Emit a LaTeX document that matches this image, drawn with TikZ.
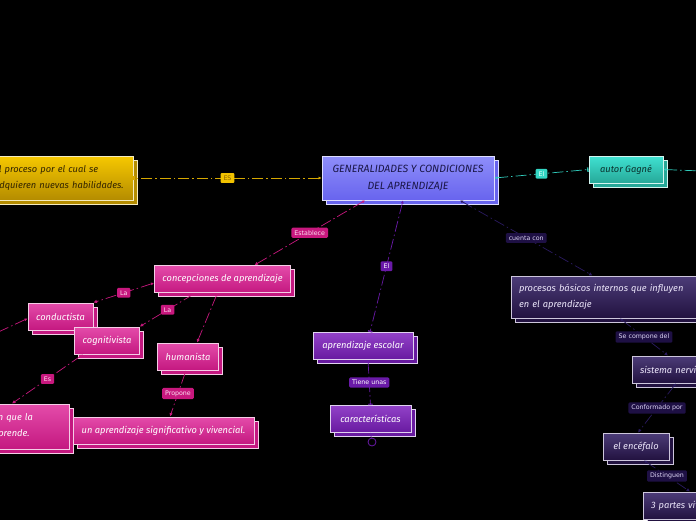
\documentclass[tikz,border=0pt]{standalone}
\usepackage{fontspec}
\setmainfont{Fira Sans}
\newfontfamily\lblfont{DejaVu Sans}
\usetikzlibrary{positioning,arrows.meta}
\definecolor{cMainT} {RGB}{142,142,250}
\definecolor{cMainD} {RGB}{104,100,238}
\definecolor{cMainB} {RGB}{222,222,255}
\definecolor{cMainTx}{RGB}{ 26, 22, 70}
\definecolor{cGoldT} {RGB}{246,200,  0}
\definecolor{cGoldD} {RGB}{180,140,  0}
\definecolor{cGoldB} {RGB}{245,235,190}
\definecolor{cGoldTx}{RGB}{ 50, 36,  0}
\definecolor{cTealT} {RGB}{ 64,226,210}
\definecolor{cTealD} {RGB}{ 38,168,152}
\definecolor{cTealB} {RGB}{210,245,240}
\definecolor{cTealTx}{RGB}{ 10, 50, 46}
\definecolor{cPinkT} {RGB}{228, 76,170}
\definecolor{cPinkD} {RGB}{196, 24,128}
\definecolor{cPinkB} {RGB}{245,205,230}
\definecolor{cPurpT} {RGB}{146, 66,200}
\definecolor{cPurpD} {RGB}{104, 26,160}
\definecolor{cPurpB} {RGB}{225,210,240}
\definecolor{cDarkT} {RGB}{ 76, 60,120}
\definecolor{cDarkD} {RGB}{ 34, 18, 64}
\definecolor{cDarkB} {RGB}{205,198,220}
\definecolor{cDarkTx}{RGB}{236,230,250}
\definecolor{lGold}  {RGB}{214,168,  0}
\definecolor{lTeal}  {RGB}{ 48,204,188}
\definecolor{lPink}  {RGB}{200, 24,126}
\definecolor{lPurp}  {RGB}{106, 26,168}
\definecolor{lDark}  {RGB}{ 42, 26, 96}
\tikzset{
  topic/.style    = {line width=0.9pt, inner xsep=8pt, inner ysep=2pt,
                     minimum height=27pt, align=left,
                     font=\fontsize{9.3}{16}\selectfont\itshape},
  tbox/.style n args = {4}{topic, draw=#1, top color=#2, bottom color=#3,
                     text=#4, preaction={fill=#3, draw=#1,
                     transform canvas={shift={(4pt,-4pt)}}}},
  mainbox/.style  = {tbox={cMainB}{cMainT}{cMainD}{cMainTx}, align=center,
                     font=\fontsize{10.5}{16.5}\selectfont\itshape},
  goldbox/.style  = {tbox={cGoldB}{cGoldT}{cGoldD}{cGoldTx}},
  tealbox/.style  = {tbox={cTealB}{cTealT}{cTealD}{cTealTx}},
  pinkbox/.style  = {tbox={cPinkB}{cPinkT}{cPinkD}{white}},
  purpbox/.style  = {tbox={cPurpB}{cPurpT}{cPurpD}{white}},
  darkbox/.style  = {tbox={cDarkB}{cDarkT}{cDarkD}{cDarkTx}},
  flow/.style     = {line width=0.7pt, dash pattern=on 11pt off 3pt on 1.5pt off 3pt,
                     {Latex[length=3pt,width=3pt]}-{Latex[length=3.5pt,width=3.5pt]}},
  barflow/.style  = {flow, {Latex[length=3pt,width=3pt]}-{Bar[width=4.5pt]Bar[width=4.5pt]}},
  lbl/.style      = {rounded corners=1.2pt, inner xsep=3pt, inner ysep=2.6pt,
                     font=\lblfont\fontsize{6.3}{7}\selectfont},
  lblGold/.style  = {lbl, fill={rgb,255:red,242;green,194;blue,0}, text={rgb,255:red,140;green,100;blue,0}},
  lblTeal/.style  = {lbl, fill={rgb,255:red,52;green,214;blue,196}, text={rgb,255:red,232;green,255;blue,252}},
  lblPink/.style  = {lbl, fill=lPink, text={rgb,255:red,251;green,224;blue,240}},
  lblPurp/.style  = {lbl, fill=lPurp, text=white},
  lblDark/.style  = {lbl, fill={rgb,255:red,30;green,16;blue,68}, text={rgb,255:red,220;green,212;blue,244}},
}
\begin{document}
\begin{tikzpicture}[x=1pt, y=-1pt]
  \useasboundingbox (0,0) rectangle (696,520);
  \clip (0,0) rectangle (696,520);
  \fill[black] (0,0) rectangle (696,520);

  %% ---------------- topics ------------------------------------------
  \node[mainbox, minimum width=172pt, minimum height=44pt] (main) at (408,178)
       {GENERALIDADES Y CONDICIONES\\DEL APRENDIZAJE};
  \node[goldbox, text width=131pt, minimum height=44pt] (proc0) at (59.5,178)
       {El proceso por el cual se\\adquieren nuevas habilidades.};
  \node[tealbox, minimum width=74pt] (gagne) at (626,169.5) {autor Gagné};

  \node[pinkbox, minimum width=135pt] (conc) at (222.5,279) {concepciones de aprendizaje};
  \node[pinkbox, minimum width=65pt]  (cond) at (60.5,316.5) {conductista};
  \node[pinkbox, minimum width=64pt]  (cogn) at (107,340.5) {cognitivista};
  \node[pinkbox, minimum width=60pt]  (hum)  at (188,356.5) {humanista};
  \node[pinkbox, text width=68pt, minimum height=45pt] (cogdef) at (27,426.5)
       {en que la\\aprende.};
  \node[pinkbox, minimum width=181pt] (sig) at (163.5,430.5)
       {un aprendizaje significativo y vivencial.};

  \node[purpbox, minimum width=100pt] (esc) at (363,346) {aprendizaje escolar};
  \node[purpbox, minimum width=81pt]  (car) at (370.5,419) {características};
  \node[circle, draw=lPurp, line width=0.8pt, minimum size=8pt, inner sep=0pt]
       (carMore) at (372,442) {};

  \node[darkbox, text width=179pt, minimum height=42pt] (pbi) at (608.5,297)
       {procesos básicos internos que influyen\\en el aprendizaje};
  \node[darkbox, text width=84pt] (sist) at (682,369.5) {sistema nervioso};
  \node[darkbox, minimum width=66pt] (enc) at (636,446.5) {el encéfalo};
  \node[darkbox, text width=84pt] (part) at (693,505.5) {3 partes vitales};

  \coordinate (gOut) at (702,171);
  \coordinate (cOut) at (-6,334);

  %% ---------------- links -------------------------------------------
  \draw[barflow, lGold] (main.west) -- node[lblGold] (lEs) {ES} (proc0.east);
  \draw[barflow, lTeal] (main.east) -- node[lblTeal] (lElA) {El} (gagne.west);
  \draw[flow, lTeal] (gagne.east) -- (gOut);

  \draw[flow, lPink] ([xshift=-43pt]main.south) -- node[lblPink] (lEst) {Establece}
       ([xshift=32pt]conc.north);
  \draw[flow, lPink] ([yshift=-4pt]conc.west) -- node[lblPink] (lLaA) {La} (cond.north east);
  \draw[flow, lPink] ([xshift=-27pt]conc.south) -- node[lblPink] (lLaB) {La} (cogn.north east);
  \draw[flow, lPink] ([xshift=-5pt]conc.south) -- ([xshift=9pt]hum.north);
  \draw[flow, lPink] ([yshift=-2pt]cond.west) -- (cOut);
  \draw[flow, lPink] ([xshift=-24pt]cogn.south) -- node[lblPink] (lEsB) {Es}
       ([xshift=-15pt]cogdef.north);
  \draw[flow, lPink] ([xshift=-2pt]hum.south) -- node[lblPink] (lProp) {Propone}
       ([xshift=6.5pt]sig.north);

  \draw[barflow, lPurp] ([xshift=-5pt]main.south) -- node[lblPurp] (lElB) {El}
       ([xshift=7pt]esc.north);
  \draw[barflow, lPurp] ([xshift=5pt]esc.south) -- node[lblPurp] (lTiene) {Tiene unas} (car.north);
  \draw[lPurp, line width=0.7pt] (car.south) -- (carMore);

  \draw[flow, lDark] ([xshift=52pt]main.south) -- node[lblDark] (lCuenta) {cuenta con}
       ([xshift=-16pt]pbi.north);
  \draw[flow, lDark] ([xshift=11.5pt]pbi.south) -- node[lblDark] (lComp) {Se compone del}
       ([xshift=-14pt]sist.north);
  \draw[flow, lDark] ([xshift=-6pt]sist.south) -- node[lblDark] (lConf) {Conformado por}
       ([xshift=2pt]enc.north);
  \draw[flow, lDark] ([xshift=8pt]enc.south) -- node[lblDark] (lDist) {Distinguen}
       ([xshift=-3pt]part.north);
\end{tikzpicture}
\end{document}
